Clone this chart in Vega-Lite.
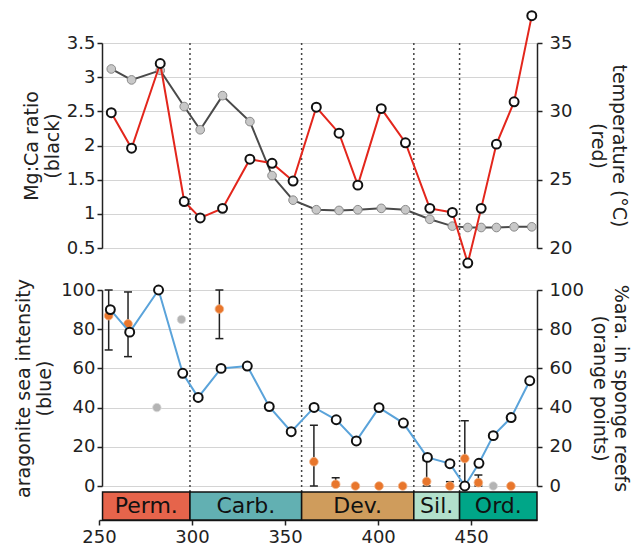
{
  "$schema": "https://vega.github.io/schema/vega-lite/v6.json",
  "background": "white",
  "padding": {"left": 14, "top": 7, "right": 2, "bottom": 3},
  "bounds": "flush",
  "spacing": 42,
  "config": {
    "view": {"stroke": null},
    "font": "DejaVu Sans",
    "axis": {
      "labelFont": "DejaVu Sans", "labelFontSize": 18, "labelColor": "#222222",
      "titleFont": "DejaVu Sans", "titleFontSize": 19, "titleFontWeight": "normal", "titleColor": "#222222",
      "titleLineHeight": 21,
      "domainColor": "#222222", "domainWidth": 1.5,
      "tickColor": "#222222", "tickWidth": 1.5, "tickSize": 5,
      "gridColor": "#d4d4d4", "gridWidth": 1
    }
  },
  "datasets": {
    "bounds": [{"b": 298.9}, {"b": 358.9}, {"b": 419.2}, {"b": 443.8}],
    "top": [
      {"age": 256.6, "mgca": 3.12, "temp": 29.9},
      {"age": 267.5, "mgca": 2.96, "temp": 27.3},
      {"age": 282.9, "mgca": 3.10, "temp": 33.5},
      {"age": 295.8, "mgca": 2.57, "temp": 23.4},
      {"age": 304.4, "mgca": 2.23, "temp": 22.2},
      {"age": 316.4, "mgca": 2.73, "temp": 22.9},
      {"age": 331.1, "mgca": 2.35, "temp": 26.5},
      {"age": 343.0, "mgca": 1.56, "temp": 26.2},
      {"age": 354.3, "mgca": 1.20, "temp": 24.9},
      {"age": 366.8, "mgca": 1.06, "temp": 30.3},
      {"age": 379.0, "mgca": 1.05, "temp": 28.4},
      {"age": 389.1, "mgca": 1.06, "temp": 24.6},
      {"age": 401.7, "mgca": 1.08, "temp": 30.2},
      {"age": 414.7, "mgca": 1.06, "temp": 27.7},
      {"age": 427.8, "mgca": 0.92, "temp": 22.9},
      {"age": 439.9, "mgca": 0.82, "temp": 22.6},
      {"age": 448.2, "mgca": 0.80, "temp": 18.9},
      {"age": 455.4, "mgca": 0.80, "temp": 22.9},
      {"age": 463.6, "mgca": 0.80, "temp": 27.6},
      {"age": 473.1, "mgca": 0.81, "temp": 30.7},
      {"age": 482.6, "mgca": 0.81, "temp": 37.0}
    ],
    "blue": [
      {"age": 256.1, "arag": 90},
      {"age": 266.5, "arag": 78.5},
      {"age": 282.0, "arag": 100},
      {"age": 295.0, "arag": 57.5},
      {"age": 303.3, "arag": 45.2},
      {"age": 315.6, "arag": 60},
      {"age": 329.7, "arag": 61.2},
      {"age": 341.5, "arag": 40.5},
      {"age": 353.3, "arag": 27.7},
      {"age": 365.6, "arag": 40.1},
      {"age": 377.5, "arag": 33.8},
      {"age": 388.3, "arag": 23},
      {"age": 400.5, "arag": 40},
      {"age": 413.6, "arag": 32.1},
      {"age": 426.5, "arag": 14.6},
      {"age": 438.6, "arag": 11.4},
      {"age": 446.6, "arag": 0},
      {"age": 454.2, "arag": 11.6},
      {"age": 461.9, "arag": 25.7},
      {"age": 471.5, "arag": 34.9},
      {"age": 481.5, "arag": 53.7}
    ],
    "orange": [
      {"age": 255.2, "pct": 86.9},
      {"age": 265.6, "pct": 82.7},
      {"age": 314.7, "pct": 90.3},
      {"age": 365.5, "pct": 12.4},
      {"age": 377.2, "pct": 0.9},
      {"age": 387.8, "pct": 0},
      {"age": 400.5, "pct": 0},
      {"age": 413.2, "pct": 0},
      {"age": 426.1, "pct": 2.3},
      {"age": 438.6, "pct": 0},
      {"age": 446.6, "pct": 14},
      {"age": 453.9, "pct": 1.7},
      {"age": 471.4, "pct": 0}
    ],
    "errors": [
      {"age": 255.2, "lo": 69.4, "hi": 100},
      {"age": 265.6, "lo": 66, "hi": 99},
      {"age": 314.7, "lo": 75.2, "hi": 100},
      {"age": 365.5, "lo": 0, "hi": 31},
      {"age": 377.2, "lo": 0, "hi": 4.2},
      {"age": 426.1, "lo": 0, "hi": 13},
      {"age": 438.6, "lo": 0, "hi": 2.2},
      {"age": 446.6, "lo": 0, "hi": 33.3},
      {"age": 453.9, "lo": 0, "hi": 5.6}
    ],
    "grey": [
      {"age": 281.1, "val": 40},
      {"age": 294.3, "val": 85},
      {"age": 461.9, "val": 0}
    ],
    "periods": [
      {"period": "Perm.", "start": 251.9, "end": 298.9},
      {"period": "Carb.", "start": 298.9, "end": 358.9},
      {"period": "Dev.", "start": 358.9, "end": 419.2},
      {"period": "Sil.", "start": 419.2, "end": 443.8},
      {"period": "Ord.", "start": 443.8, "end": 485.4}
    ]
  },
  "vconcat": [
    {
      "width": 438,
      "height": 205,
      "layer": [
        {
          "layer": [
            {
              "data": {"name": "bounds"},
              "mark": {"type": "rule", "strokeDash": [2, 3], "strokeWidth": 1.5, "color": "#444444"},
              "encoding": {
                "x": {"field": "b", "type": "quantitative", "scale": {"domain": [250, 485.4], "nice": false, "zero": false}, "axis": null},
                "y": {"datum": 3.5, "type": "quantitative", "scale": {"domain": [0.5, 3.5], "nice": false, "zero": false},
                  "axis": {"orient": "left", "title": ["Mg:Ca ratio", "(black)"], "values": [0.5, 1, 1.5, 2, 2.5, 3, 3.5], "format": "~g", "grid": true, "labelPadding": 2, "titlePadding": 4, "offset": -3}},
                "y2": {"datum": -0.115}
              }
            },
            {
              "data": {"name": "top"},
              "mark": {"type": "line", "color": "#4a4a4a", "strokeWidth": 2},
              "encoding": {
                "x": {"field": "age", "type": "quantitative", "scale": {"domain": [250, 485.4], "nice": false, "zero": false}, "axis": null},
                "y": {"field": "mgca", "type": "quantitative", "scale": {"domain": [0.5, 3.5], "nice": false, "zero": false},
                  "axis": {"orient": "left", "title": ["Mg:Ca ratio", "(black)"], "values": [0.5, 1, 1.5, 2, 2.5, 3, 3.5], "format": "~g", "grid": true, "labelPadding": 2, "titlePadding": 4, "offset": -3}}
              }
            },
            {
              "data": {"name": "top"},
              "mark": {"type": "circle", "size": 75, "fill": "#c8c8c8", "stroke": "#8a8a8a", "strokeWidth": 1, "opacity": 1},
              "encoding": {
                "x": {"field": "age", "type": "quantitative", "scale": {"domain": [250, 485.4], "nice": false, "zero": false}, "axis": null},
                "y": {"field": "mgca", "type": "quantitative", "scale": {"domain": [0.5, 3.5], "nice": false, "zero": false},
                  "axis": {"orient": "left", "title": ["Mg:Ca ratio", "(black)"], "values": [0.5, 1, 1.5, 2, 2.5, 3, 3.5], "format": "~g", "grid": true, "labelPadding": 2, "titlePadding": 4, "offset": -3}}
              }
            }
          ]
        },
        {
          "layer": [
            {
              "data": {"name": "top"},
              "mark": {"type": "line", "color": "#e3261c", "strokeWidth": 2},
              "encoding": {
                "x": {"field": "age", "type": "quantitative", "scale": {"domain": [250, 485.4], "nice": false, "zero": false}, "axis": null},
                "y": {"field": "temp", "type": "quantitative", "scale": {"domain": [20, 35], "nice": false, "zero": false},
                  "axis": {"orient": "right", "title": ["temperature (°C)", "(red)"], "values": [20, 25, 30, 35], "grid": false, "labelPadding": 7, "titlePadding": 16}}
              }
            },
            {
              "data": {"name": "top"},
              "mark": {"type": "circle", "size": 80, "fill": "#ffffff", "stroke": "#111111", "strokeWidth": 2, "opacity": 1},
              "encoding": {
                "x": {"field": "age", "type": "quantitative", "scale": {"domain": [250, 485.4], "nice": false, "zero": false}, "axis": null},
                "y": {"field": "temp", "type": "quantitative", "scale": {"domain": [20, 35], "nice": false, "zero": false},
                  "axis": {"orient": "right", "title": ["temperature (°C)", "(red)"], "values": [20, 25, 30, 35], "grid": false, "labelPadding": 7, "titlePadding": 16}}
              }
            }
          ]
        }
      ],
      "resolve": {"scale": {"y": "independent"}}
    },
    {
      "width": 438,
      "height": 196,
      "layer": [
        {
          "layer": [
            {
              "data": {"name": "bounds"},
              "mark": {"type": "rule", "strokeDash": [2, 3], "strokeWidth": 1.5, "color": "#444444"},
              "encoding": {
                "x": {"field": "b", "type": "quantitative", "scale": {"domain": [250, 485.4], "nice": false, "zero": false},
                  "axis": {"title": null, "values": [250, 300, 350, 400, 450], "grid": false, "offset": 34, "labelPadding": 3, "labelFlush": false}},
                "y": {"datum": 100, "type": "quantitative", "scale": {"domain": [0, 100], "nice": false},
                  "axis": {"orient": "right", "title": ["%ara. in sponge reefs", "(orange points)"], "values": [0, 20, 40, 60, 80, 100], "grid": false, "labelPadding": 7, "titlePadding": 6}},
                "y2": {"datum": -3.1}
              }
            },
            {
              "data": {"name": "periods"},
              "mark": {"type": "rect", "stroke": "#111111", "strokeWidth": 1.5},
              "encoding": {
                "x": {"field": "start", "type": "quantitative", "scale": {"domain": [250, 485.4], "nice": false, "zero": false},
                  "axis": {"title": null, "values": [250, 300, 350, 400, 450], "grid": false, "offset": 34, "labelPadding": 3, "labelFlush": false}},
                "x2": {"field": "end"},
                "y": {"datum": -3.1, "type": "quantitative", "scale": {"domain": [0, 100], "nice": false},
                  "axis": {"orient": "right", "title": ["%ara. in sponge reefs", "(orange points)"], "values": [0, 20, 40, 60, 80, 100], "grid": false, "labelPadding": 7, "titlePadding": 6}},
                "y2": {"datum": -17.3},
                "color": {
                  "field": "period", "type": "nominal", "legend": null,
                  "scale": {"domain": ["Perm.", "Carb.", "Dev.", "Sil.", "Ord."], "range": ["#e6644b", "#62b0b2", "#cf9c5c", "#b2e0cc", "#00a688"]}
                }
              }
            },
            {
              "data": {"name": "periods"},
              "transform": [{"calculate": "(datum.start + datum.end) / 2", "as": "mid"}],
              "mark": {"type": "text", "fontSize": 22, "font": "DejaVu Sans", "color": "#111111", "baseline": "middle", "align": "center"},
              "encoding": {
                "x": {"field": "mid", "type": "quantitative", "scale": {"domain": [250, 485.4], "nice": false, "zero": false},
                  "axis": {"title": null, "values": [250, 300, 350, 400, 450], "grid": false, "offset": 34, "labelPadding": 3, "labelFlush": false}},
                "y": {"datum": -10.2, "type": "quantitative", "scale": {"domain": [0, 100], "nice": false},
                  "axis": {"orient": "right", "title": ["%ara. in sponge reefs", "(orange points)"], "values": [0, 20, 40, 60, 80, 100], "grid": false, "labelPadding": 7, "titlePadding": 6}},
                "text": {"field": "period"}
              }
            },
            {
              "data": {"name": "errors"},
              "mark": {"type": "rule", "color": "#222222", "strokeWidth": 1.5},
              "encoding": {
                "x": {"field": "age", "type": "quantitative", "scale": {"domain": [250, 485.4], "nice": false, "zero": false},
                  "axis": {"title": null, "values": [250, 300, 350, 400, 450], "grid": false, "offset": 34, "labelPadding": 3, "labelFlush": false}},
                "y": {"field": "lo", "type": "quantitative", "scale": {"domain": [0, 100], "nice": false},
                  "axis": {"orient": "right", "title": ["%ara. in sponge reefs", "(orange points)"], "values": [0, 20, 40, 60, 80, 100], "grid": false, "labelPadding": 7, "titlePadding": 6}},
                "y2": {"field": "hi"}
              }
            },
            {
              "data": {"name": "errors"},
              "mark": {"type": "tick", "orient": "horizontal", "color": "#222222", "size": 8, "thickness": 1.5, "opacity": 1},
              "encoding": {
                "x": {"field": "age", "type": "quantitative", "scale": {"domain": [250, 485.4], "nice": false, "zero": false},
                  "axis": {"title": null, "values": [250, 300, 350, 400, 450], "grid": false, "offset": 34, "labelPadding": 3, "labelFlush": false}},
                "y": {"field": "lo", "type": "quantitative", "scale": {"domain": [0, 100], "nice": false},
                  "axis": {"orient": "right", "title": ["%ara. in sponge reefs", "(orange points)"], "values": [0, 20, 40, 60, 80, 100], "grid": false, "labelPadding": 7, "titlePadding": 6}}
              }
            },
            {
              "data": {"name": "errors"},
              "mark": {"type": "tick", "orient": "horizontal", "color": "#222222", "size": 8, "thickness": 1.5, "opacity": 1},
              "encoding": {
                "x": {"field": "age", "type": "quantitative", "scale": {"domain": [250, 485.4], "nice": false, "zero": false},
                  "axis": {"title": null, "values": [250, 300, 350, 400, 450], "grid": false, "offset": 34, "labelPadding": 3, "labelFlush": false}},
                "y": {"field": "hi", "type": "quantitative", "scale": {"domain": [0, 100], "nice": false},
                  "axis": {"orient": "right", "title": ["%ara. in sponge reefs", "(orange points)"], "values": [0, 20, 40, 60, 80, 100], "grid": false, "labelPadding": 7, "titlePadding": 6}}
              }
            },
            {
              "data": {"name": "orange"},
              "mark": {"type": "circle", "size": 75, "fill": "#e8762c", "stroke": "#f3b58a", "strokeWidth": 0.8, "opacity": 1},
              "encoding": {
                "x": {"field": "age", "type": "quantitative", "scale": {"domain": [250, 485.4], "nice": false, "zero": false},
                  "axis": {"title": null, "values": [250, 300, 350, 400, 450], "grid": false, "offset": 34, "labelPadding": 3, "labelFlush": false}},
                "y": {"field": "pct", "type": "quantitative", "scale": {"domain": [0, 100], "nice": false},
                  "axis": {"orient": "right", "title": ["%ara. in sponge reefs", "(orange points)"], "values": [0, 20, 40, 60, 80, 100], "grid": false, "labelPadding": 7, "titlePadding": 6}}
              }
            }
          ]
        },
        {
          "layer": [
            {
              "data": {"name": "grey"},
              "mark": {"type": "circle", "size": 72, "fill": "#b4b4b4", "stroke": "#dddddd", "strokeWidth": 0.8, "opacity": 1},
              "encoding": {
                "x": {"field": "age", "type": "quantitative", "scale": {"domain": [250, 485.4], "nice": false, "zero": false},
                  "axis": {"title": null, "values": [250, 300, 350, 400, 450], "grid": false, "offset": 34, "labelPadding": 3, "labelFlush": false}},
                "y": {"field": "val", "type": "quantitative", "scale": {"domain": [0, 100], "nice": false},
                  "axis": {"orient": "left", "title": ["aragonite sea intensity", "(blue)"], "values": [0, 20, 40, 60, 80, 100], "grid": true, "labelPadding": 2, "titlePadding": 6, "offset": -3}}
              }
            },
            {
              "data": {"name": "blue"},
              "mark": {"type": "line", "color": "#5aa3da", "strokeWidth": 2},
              "encoding": {
                "x": {"field": "age", "type": "quantitative", "scale": {"domain": [250, 485.4], "nice": false, "zero": false},
                  "axis": {"title": null, "values": [250, 300, 350, 400, 450], "grid": false, "offset": 34, "labelPadding": 3, "labelFlush": false}},
                "y": {"field": "arag", "type": "quantitative", "scale": {"domain": [0, 100], "nice": false},
                  "axis": {"orient": "left", "title": ["aragonite sea intensity", "(blue)"], "values": [0, 20, 40, 60, 80, 100], "grid": true, "labelPadding": 2, "titlePadding": 6, "offset": -3}}
              }
            },
            {
              "data": {"name": "blue"},
              "mark": {"type": "circle", "size": 80, "fill": "#ffffff", "stroke": "#111111", "strokeWidth": 2, "opacity": 1},
              "encoding": {
                "x": {"field": "age", "type": "quantitative", "scale": {"domain": [250, 485.4], "nice": false, "zero": false},
                  "axis": {"title": null, "values": [250, 300, 350, 400, 450], "grid": false, "offset": 34, "labelPadding": 3, "labelFlush": false}},
                "y": {"field": "arag", "type": "quantitative", "scale": {"domain": [0, 100], "nice": false},
                  "axis": {"orient": "left", "title": ["aragonite sea intensity", "(blue)"], "values": [0, 20, 40, 60, 80, 100], "grid": true, "labelPadding": 2, "titlePadding": 6, "offset": -3}}
              }
            }
          ]
        }
      ],
      "resolve": {"scale": {"y": "independent"}}
    }
  ]
}
